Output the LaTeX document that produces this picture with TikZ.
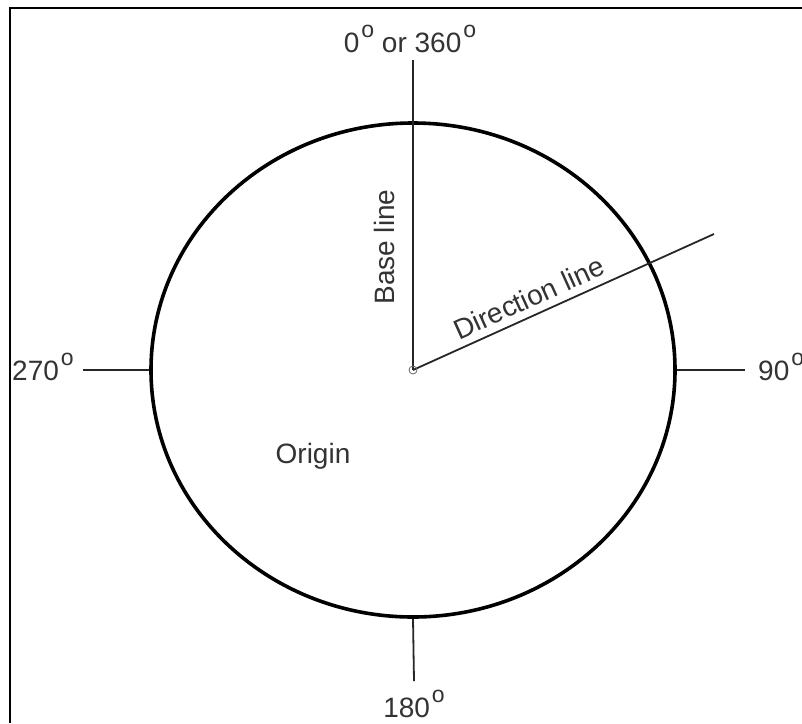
\documentclass[tikz,border=0pt]{standalone}
\usepackage{fontspec}
\setmainfont{Liberation Sans}
\usetikzlibrary{shapes.geometric, positioning, calc}

\tikzset{
    lbl/.style={font=\fontsize{28}{32}\selectfont, text=black!80, inner sep=0pt},
    tickline/.style={line width=1.8pt, black!85}
}
\newcommand{\dg}{\hspace{2pt}\raisebox{15pt}{\fontsize{23}{23}\selectfont o}}

\begin{document}
\begin{tikzpicture}[x=1pt, y=-1pt]
        \useasboundingbox (0,0) rectangle (802,723);
        % Frame
        \draw[line width=2.2pt] (10,723) -- (10,8.3) -- (802,8.3);

        % Compass circle
        \node[ellipse, draw, line width=3.6pt, minimum width=524pt, minimum height=494pt, inner sep=0pt] (circ) at (413,370) {};
        \coordinate (o) at (413,370);
        \coordinate (n) at (413,60);
        \coordinate (w) at (83,370);
        \coordinate (e) at (745,370);
        \coordinate (s) at (414,681);
        \coordinate (dir) at (714,234);

        % Labels
        \node[lbl, anchor=base] (l0) at (410,52) {0\dg{} or 360\dg};
        \node[lbl, anchor=base west] (l270) at (12,380) {270\dg};
        \node[lbl, anchor=base west] (l90) at (758,380) {90\dg};
        \node[lbl, anchor=base] (l180) at (414,717) {180\dg};
        \node[lbl, anchor=base] (orig) at (313,463) {Origin};
        \node[lbl, rotate=90] (base) at (384,247) {Base line};

        % Lines
        \draw[tickline] (n) -- (o);
        \draw[tickline] (w) -- (circ.west);
        \draw[tickline] (circ.east) -- (e);
        \draw[tickline] (circ.south) -- (s);
        \draw[tickline] (o) -- (dir) node[lbl, pos=0.41, sloped, above=7pt] (dlbl) {Direction line};
        \draw[black!60, line width=0.8pt] (o) circle [radius=4];
\end{tikzpicture}
\end{document}
